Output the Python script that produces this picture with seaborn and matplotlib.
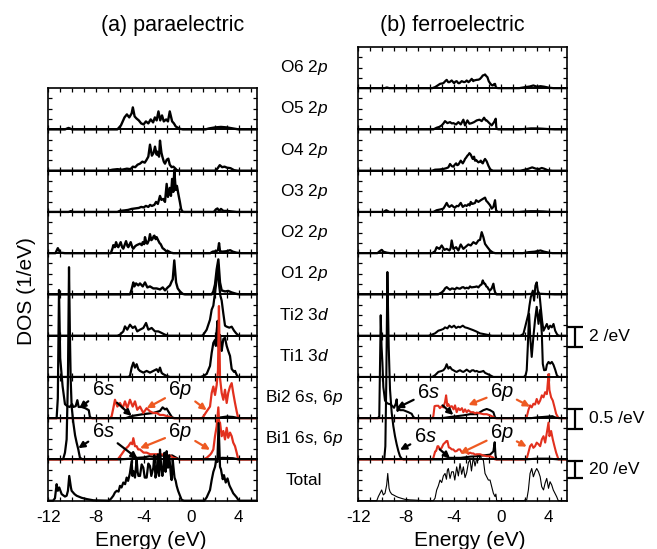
import matplotlib.pyplot as plt
import matplotlib.transforms as mtransforms
import seaborn as sns
import pandas as pd
from matplotlib.ticker import MultipleLocator

# Partial DOS: (energy in eV, DOS in 1/eV)
# ---------------- (a) paraelectric ----------------
o5_pe = [(-12, 0), (-10.6, 0), (-10.3, 0.15), (-10.0, 0), (-6.2, 0), (-5.9, 0.4), (-5.6, 1.2), (-5.4, 1.5),
         (-5.2, 1.2), (-5.0, 1.6), (-4.9, 2.2), (-4.75, 1.3), (-4.6, 1.1), (-4.4, 0.9), (-4.2, 0.6), (-4.0, 0.5),
         (-3.8, 0.8), (-3.6, 0.6), (-3.4, 1.0), (-3.2, 0.7), (-3.05, 1.2), (-2.9, 0.9), (-2.75, 1.8), (-2.6, 0.9),
         (-2.45, 1.4), (-2.3, 0.8), (-2.1, 1.0), (-1.95, 0.8), (-1.8, 1.8), (-1.6, 0.8), (-1.45, 0.6), (-1.3, 0.3),
         (-1.1, 0.15), (-0.9, 0.05), (-0.7, 0), (1.2, 0), (1.5, 0.1), (2.0, 0.2), (2.5, 0.25), (3.0, 0.2),
         (3.5, 0.1), (4.0, 0), (5.5, 0)]
o4_pe = [(-12, 0), (-7.0, 0), (-6.6, 0.1), (-6.2, 0.15), (-5.8, 0.1), (-5.4, 0.2), (-5.1, 0.15), (-4.9, 0.4),
         (-4.7, 0.35), (-4.5, 0.6), (-4.3, 0.7), (-4.1, 0.9), (-3.9, 0.8), (-3.74, 1.1), (-3.6, 1.4), (-3.46, 2.6),
         (-3.3, 1.5), (-3.15, 1.8), (-3.04, 2.4), (-2.9, 1.6), (-2.84, 1.9), (-2.7, 1.4), (-2.62, 3.0), (-2.5, 1.8),
         (-2.42, 1.4), (-2.3, 0.9), (-2.2, 0.7), (-2.05, 1.1), (-1.92, 1.2), (-1.8, 0.6), (-1.64, 0.35), (-1.5, 0.4),
         (-1.36, 0.25), (-1.2, 0.05), (-1.0, 0), (2.0, 0), (2.2, 0.2), (2.4, 0.55), (2.6, 0.35), (2.8, 0.4),
         (3.0, 0.3), (3.3, 0.25), (3.6, 0.05), (3.9, 0), (5.5, 0)]
o3_pe = [(-12, 0), (-10.3, 0), (-10.1, 0.08), (-9.9, 0), (-6.2, 0), (-6.0, 0.1), (-5.6, 0.15), (-5.3, 0.2),
         (-5.0, 0.3), (-4.7, 0.35), (-4.4, 0.4), (-4.2, 0.5), (-4.0, 0.45), (-3.8, 0.6), (-3.6, 0.5), (-3.45, 0.7),
         (-3.3, 0.6), (-3.1, 0.7), (-2.95, 1.0), (-2.8, 0.8), (-2.62, 1.6), (-2.5, 1.2), (-2.35, 1.3), (-2.2, 1.0),
         (-2.06, 2.8), (-1.95, 1.5), (-1.8, 2.4), (-1.7, 1.6), (-1.6, 3.3), (-1.5, 2.0), (-1.42, 4.2), (-1.3, 2.2),
         (-1.2, 2.6), (-1.08, 1.8), (-0.95, 1.0), (-0.85, 0.3), (-0.75, 0.05), (-0.6, 0), (1.9, 0), (2.0, 0.15),
         (2.2, 0.35), (2.35, 0.1), (2.5, 0.3), (2.7, 0.1), (3.0, 0.1), (3.4, 0.05), (3.8, 0), (5.5, 0)]
o2_pe = [(-12, 0), (-11.4, 0), (-11.2, 0.5), (-11.0, 0.05), (-10.6, 0), (-6.75, 0), (-6.6, 0.5), (-6.54, 0.8),
         (-6.4, 0.6), (-6.31, 1.1), (-6.2, 0.7), (-6.12, 0.6), (-5.92, 1.1), (-5.8, 0.6), (-5.7, 0.45), (-5.47, 1.2),
         (-5.35, 0.7), (-5.28, 0.6), (-5.08, 1.1), (-4.95, 0.6), (-4.86, 0.45), (-4.7, 0.7), (-4.58, 0.8),
         (-4.3, 0.95), (-4.15, 0.8), (-4.07, 1.1), (-3.95, 0.9), (-3.88, 1.6), (-3.75, 1.0), (-3.68, 0.95),
         (-3.55, 1.3), (-3.46, 1.9), (-3.35, 1.3), (-3.26, 1.4), (-3.15, 1.7), (-3.09, 1.75), (-2.98, 1.4),
         (-2.9, 1.6), (-2.76, 1.25), (-2.65, 1.0), (-2.56, 0.9), (-2.4, 0.5), (-2.28, 0.4), (-2.1, 0.2),
         (-1.92, 0.2), (-1.7, 0.05), (-1.5, 0), (1.6, 0), (1.8, 0.15), (2.1, 0.2), (2.25, 0.3), (2.34, 1.0),
         (2.42, 0.2), (2.6, 0.15), (3.0, 0.2), (3.27, 0.3), (3.5, 0.15), (3.8, 0.05), (4.2, 0), (5.5, 0)]
o1_pe = [(-12, 0), (-5.14, 0), (-5.0, 0.5), (-4.86, 1.2), (-4.77, 0.8), (-4.63, 1.1), (-4.44, 0.9), (-4.3, 1.1),
         (-4.07, 0.8), (-3.88, 1.2), (-3.68, 0.7), (-3.46, 0.8), (-3.18, 0.6), (-2.9, 0.6), (-2.62, 0.5),
         (-2.39, 0.7), (-2.2, 0.4), (-1.97, 0.7), (-1.78, 0.9), (-1.64, 1.3), (-1.55, 1.5), (-1.42, 3.4),
         (-1.27, 1.2), (-1.13, 0.6), (-0.94, 0.3), (-0.71, 0.05), (-0.52, 0), (1.72, 0), (1.86, 0.3), (2.0, 1.0),
         (2.14, 2.5), (2.28, 3.5), (2.42, 1.2), (2.56, 0.4), (2.84, 0.3), (3.11, 0.35), (3.4, 0.2), (3.82, 0.05),
         (4.1, 0), (5.5, 0)]
ti2_pe = [(-12, 0), (-6.2, 0), (-5.98, 0.1), (-5.7, 0.43), (-5.56, 0.93), (-5.37, 0.6), (-5.14, 1.1),
          (-4.91, 0.77), (-4.72, 0.93), (-4.53, 0.43), (-4.3, 0.6), (-4.02, 0.77), (-3.79, 1.27), (-3.6, 0.6),
          (-3.32, 0.77), (-3.04, 0.43), (-2.76, 0.43), (-2.48, 0.27), (-2.2, 0.1), (-1.92, 0), (0.9, 0),
          (1.02, 0.1), (1.3, 0.6), (1.58, 1.6), (1.72, 2.6), (1.86, 3.0), (2.0, 4.3), (2.14, 5.6), (2.26, 7.1),
          (2.35, 5.0), (2.45, 4.0), (2.56, 3.5), (2.7, 2.2), (2.84, 1.0), (2.98, 0.9), (3.2, 0.8), (3.4, 0.9),
          (3.6, 0.5), (3.8, 0.2), (4.0, 0), (5.5, 0)]
ti1_pe = [(-12, 0), (-5.3, 0), (-5.14, 0.1), (-5.0, 0.93), (-4.86, 1.43), (-4.72, 0.93), (-4.58, 1.27),
          (-4.44, 0.77), (-4.3, 0.6), (-4.02, 0.43), (-3.74, 0.6), (-3.46, 0.43), (-3.18, 0.6), (-2.9, 0.77),
          (-2.76, 0.5), (-2.62, 0.93), (-2.48, 0.4), (-2.34, 0.27), (-2.06, 0.1), (-1.78, 0), (0.8, 0),
          (1.02, 0.1), (1.3, 0.3), (1.58, 1.1), (1.72, 2.4), (1.86, 3.4), (2.0, 3.7), (2.07, 3.1), (2.14, 4.6),
          (2.22, 5.6), (2.3, 3.0), (2.42, 4.2), (2.5, 3.2), (2.56, 2.6), (2.7, 3.8), (2.84, 3.9), (2.98, 3.1),
          (3.11, 2.6), (3.26, 2.1), (3.4, 0.8), (3.6, 0.5), (3.68, 0.6), (3.82, 0.2), (3.95, 0), (5.5, 0)]
bi2s_pe = [(-12, 0), (-11.3, 0), (-11.2, 0.5), (-11.1, 3.2), (-11.0, 1.5), (-10.8, 0.8), (-10.6, 0.35),
           (-10.4, 0.3), (-10.2, 0.28), (-10.0, 0.35), (-9.9, 0.28), (-9.7, 0.3), (-9.56, 0.45), (-9.45, 0.28),
           (-9.2, 0.28), (-8.9, 0.25), (-8.6, 0.2), (-8.5, 0.02), (-8.3, 0), (-5.5, 0), (-4.88, 0.06),
           (-4.05, 0.1), (-3.18, 0.13), (-2.62, 0.18), (-2.4, 0.27), (-2.2, 0.22), (-2.06, 0.24), (-1.78, 0.1),
           (-1.6, 0.02), (-1.4, 0), (2.0, 0), (2.5, 0.02), (3.0, 0.04), (3.5, 0.03), (4.0, 0), (5.5, 0)]
bi2p_pe = [(-12, 0), (-6.8, 0), (-6.68, 0.05), (-6.54, 0.25), (-6.4, 0.46), (-6.2, 0.29), (-5.98, 0.38),
           (-5.75, 0.25), (-5.56, 0.42), (-5.37, 0.25), (-5.14, 0.46), (-4.91, 0.29), (-4.72, 0.42),
           (-4.53, 0.21), (-4.3, 0.29), (-4.02, 0.13), (-3.74, 0.25), (-3.46, 0.17), (-3.18, 0.13), (-2.9, 0.13),
           (-2.62, 0.08), (-2.34, 0.08), (-1.92, 0.04), (-1.5, 0), (0.9, 0), (1.02, 0.04), (1.3, 0.17),
           (1.58, 0.29), (1.72, 0.63), (1.86, 0.79), (2.0, 0.58), (2.14, 0.83), (2.25, 1.2), (2.33, 2.8),
           (2.42, 1.0), (2.56, 0.63), (2.7, 0.46), (2.84, 0.71), (2.98, 0.38), (3.11, 0.63), (3.26, 0.79),
           (3.4, 0.875), (3.53, 0.63), (3.68, 0.38), (3.82, 0.17), (3.95, 0), (5.5, 0)]
bi1s_pe = [(-12, 0), (-10.8, 0), (-10.74, 0.02), (-10.6, 0.17), (-10.46, 0.5), (-10.35, 2.0), (-10.26, 4.8),
           (-10.18, 3.0), (-10.12, 2.0), (-10.04, 1.33), (-9.9, 0.92), (-9.75, 0.6), (-9.62, 0.42), (-9.48, 0.25),
           (-9.34, 0.04), (-9.1, 0), (-6.0, 0), (-5.0, 0.02), (-4.5, 0.04), (-4.0, 0.05), (-3.5, 0.08),
           (-3.0, 0.06), (-2.5, 0.1), (-2.0, 0.08), (-1.6, 0.1), (-1.3, 0.05), (-1.0, 0), (2.0, 0), (2.6, 0.04),
           (3.5, 0.03), (4.0, 0), (5.5, 0)]
bi1p_pe = [(-12, 0), (-6.2, 0), (-6.12, 0.02), (-5.84, 0.13), (-5.56, 0.25), (-5.28, 0.33), (-5.08, 0.42),
           (-4.95, 0.38), (-4.86, 0.53), (-4.72, 0.33), (-4.58, 0.33), (-4.45, 0.25), (-4.3, 0.25), (-4.0, 0.17),
           (-3.74, 0.17), (-3.45, 0.13), (-3.18, 0.13), (-2.9, 0.13), (-2.62, 0.13), (-2.35, 0.12), (-2.06, 0.08),
           (-1.8, 0.1), (-1.5, 0.04), (-1.22, 0.02), (-1.0, 0), (1.0, 0), (1.3, 0.04), (1.6, 0.12), (1.72, 0.17),
           (1.86, 0.25), (2.0, 0.58), (2.14, 0.83), (2.28, 1.3), (2.35, 0.9), (2.42, 0.92), (2.56, 0.58),
           (2.7, 0.71), (2.84, 0.5), (2.98, 0.79), (3.11, 0.54), (3.26, 0.67), (3.4, 0.58), (3.53, 0.42),
           (3.68, 0.33), (3.82, 0.17), (3.95, 0), (5.5, 0)]
tot_pe = [(-12, 0), (-11.6, 0), (-11.44, 3), (-11.3, 20), (-11.2, 12), (-11.08, 16), (-10.88, 8), (-10.6, 5),
          (-10.46, 6), (-10.35, 12), (-10.24, 30), (-10.1, 16), (-10.04, 12), (-9.8, 8), (-9.62, 6), (-9.2, 3.5),
          (-8.78, 2), (-8.22, 0.5), (-7.5, 0.2), (-6.9, 0), (-6.7, 3), (-6.54, 6), (-6.4, 10), (-6.25, 12),
          (-6.1, 11), (-5.98, 18), (-5.85, 16), (-5.7, 22), (-5.55, 20), (-5.42, 28), (-5.3, 24), (-5.15, 33),
          (-5.0, 48), (-4.93, 30), (-4.86, 36), (-4.72, 28), (-4.58, 50), (-4.5, 35), (-4.43, 30), (-4.3, 30),
          (-4.16, 44), (-4.02, 40), (-3.9, 28), (-3.74, 28), (-3.6, 45), (-3.46, 42), (-3.35, 30), (-3.18, 40),
          (-3.1, 55), (-3.0, 28), (-2.9, 34), (-2.8, 56), (-2.7, 30), (-2.62, 62), (-2.5, 38), (-2.42, 30),
          (-2.34, 40), (-2.25, 58), (-2.15, 35), (-2.06, 60), (-1.95, 40), (-1.85, 55), (-1.78, 44), (-1.7, 30),
          (-1.64, 25), (-1.55, 50), (-1.5, 42), (-1.4, 28), (-1.3, 24), (-1.22, 18), (-1.1, 12), (-0.94, 6),
          (-0.8, 1), (-0.6, 0), (1.1, 0), (1.3, 4), (1.58, 13), (1.72, 25), (1.86, 35), (2.0, 41), (2.1, 49),
          (2.2, 47), (2.3, 94), (2.42, 41), (2.5, 38), (2.56, 33), (2.65, 26), (2.75, 31), (2.9, 22), (3.05, 27),
          (3.2, 19), (3.26, 17), (3.4, 13), (3.53, 9), (3.82, 4), (3.95, 1), (4.1, 0), (5.5, 0)]

# ---------------- (b) ferroelectric ----------------
o6_fe = [(-12, 0), (-9.8, 0), (-9.6, 0.07), (-9.4, 0), (-5.8, 0), (-5.56, 0.1), (-5.3, 0.3), (-5.14, 0.43),
         (-4.86, 0.5), (-4.7, 0.7), (-4.58, 0.83), (-4.45, 0.6), (-4.35, 0.6), (-4.16, 0.77), (-3.96, 0.5),
         (-3.85, 0.65), (-3.74, 0.7), (-3.6, 0.5), (-3.51, 0.5), (-3.32, 0.7), (-3.12, 0.6), (-3.0, 0.65),
         (-2.9, 0.77), (-2.75, 0.6), (-2.67, 0.67), (-2.48, 0.93), (-2.35, 0.7), (-2.28, 0.77), (-2.06, 0.83),
         (-1.9, 0.85), (-1.78, 0.93), (-1.65, 1.1), (-1.55, 1.27), (-1.45, 1.3), (-1.36, 1.37), (-1.25, 1.2),
         (-1.16, 1.1), (-1.05, 0.7), (-0.94, 0.5), (-0.8, 0.3), (-0.71, 0.27), (-0.6, 0.4), (-0.52, 0.43),
         (-0.45, 0.1), (-0.38, 0.02), (-0.2, 0), (1.5, 0), (2.0, 0.1), (2.4, 0.17), (2.7, 0.27), (3.0, 0.15),
         (3.3, 0.2), (3.6, 0.15), (4.0, 0.05), (4.4, 0), (5.5, 0)]
o5_fe = [(-12, 0), (-5.7, 0), (-5.42, 0.17), (-5.2, 0.25), (-5.0, 0.4), (-4.85, 0.6), (-4.72, 0.83),
         (-4.52, 0.63), (-4.3, 0.73), (-4.15, 0.6), (-4.02, 0.63), (-3.79, 0.5), (-3.6, 0.73), (-3.4, 0.5),
         (-3.18, 0.97), (-3.04, 0.4), (-2.84, 0.9), (-2.67, 0.57), (-2.48, 0.63), (-2.28, 0.73), (-2.06, 0.9),
         (-1.83, 0.97), (-1.64, 0.83), (-1.44, 1.17), (-1.3, 0.9), (-1.22, 0.9), (-1.0, 0.63), (-0.8, 0.4),
         (-0.6, 0.73), (-0.46, 1.07), (-0.42, 0.3), (-0.38, 0.05), (-0.2, 0), (1.5, 0), (2.0, 0.05), (2.5, 0.1),
         (3.0, 0.1), (3.5, 0.07), (4.0, 0.03), (4.5, 0), (5.5, 0)]
o4_fe = [(-12, 0), (-5.8, 0), (-5.56, 0.1), (-5.2, 0.12), (-4.86, 0.17), (-4.6, 0.25), (-4.44, 0.33),
         (-4.3, 0.67), (-4.15, 0.45), (-4.02, 0.4), (-3.9, 0.6), (-3.79, 0.73), (-3.7, 0.55), (-3.6, 0.6),
         (-3.4, 1.0), (-3.23, 0.73), (-3.1, 1.0), (-3.04, 1.17), (-2.95, 1.3), (-2.84, 1.5), (-2.75, 1.6),
         (-2.67, 1.75), (-2.56, 1.6), (-2.45, 1.3), (-2.39, 1.17), (-2.28, 1.4), (-2.2, 1.0), (-2.11, 1.07),
         (-1.92, 0.83), (-1.8, 0.9), (-1.72, 1.0), (-1.62, 0.8), (-1.55, 0.73), (-1.45, 1.0), (-1.36, 1.17),
         (-1.22, 0.93), (-1.08, 0.5), (-0.95, 0.2), (-0.88, 0.1), (-0.7, 0), (1.6, 0), (2.0, 0.1), (2.3, 0.2),
         (2.6, 0.33), (2.9, 0.2), (3.2, 0.17), (3.4, 0.27), (3.6, 0.2), (3.9, 0.05), (4.3, 0), (5.5, 0)]
o3_fe = [(-12, 0), (-9.9, 0), (-9.65, 0.17), (-9.4, 0), (-5.7, 0), (-5.42, 0.17), (-5.1, 0.25), (-4.86, 0.33),
         (-4.72, 0.6), (-4.58, 0.9), (-4.45, 0.6), (-4.35, 0.5), (-4.16, 0.67), (-4.0, 0.5), (-3.88, 0.43),
         (-3.74, 0.6), (-3.6, 0.57), (-3.4, 0.9), (-3.23, 0.5), (-3.04, 0.67), (-2.9, 0.6), (-2.76, 0.77),
         (-2.65, 0.65), (-2.56, 1.0), (-2.45, 0.8), (-2.34, 0.83), (-2.2, 0.9), (-2.11, 1.17), (-1.92, 1.0),
         (-1.8, 1.1), (-1.72, 1.17), (-1.5, 1.33), (-1.36, 1.43), (-1.25, 1.1), (-1.16, 1.0), (-0.94, 0.67),
         (-0.8, 0.33), (-0.66, 0.5), (-0.52, 1.17), (-0.46, 0.5), (-0.43, 0.17), (-0.3, 0), (1.5, 0), (2.0, 0.05),
         (2.5, 0.07), (3.0, 0.07), (3.5, 0.05), (4.2, 0), (5.5, 0)]
o2_fe = [(-12, 0), (-10.4, 0), (-10.2, 0.2), (-10.04, 0.33), (-9.9, 0.15), (-9.6, 0.05), (-9.3, 0), (-5.8, 0),
         (-5.56, 0.2), (-5.42, 0.6), (-5.3, 0.5), (-5.19, 0.43), (-5.0, 0.77), (-4.77, 0.33), (-4.58, 0.43),
         (-4.35, 0.27), (-4.25, 0.5), (-4.16, 1.27), (-4.02, 0.43), (-3.79, 0.6), (-3.6, 0.27), (-3.4, 0.87),
         (-3.18, 0.43), (-2.95, 0.67), (-2.76, 0.87), (-2.56, 0.77), (-2.34, 1.1), (-2.11, 0.93), (-1.92, 1.27),
         (-1.78, 1.33), (-1.64, 2.1), (-1.5, 1.6), (-1.36, 0.93), (-1.16, 0.6), (-0.94, 0.27), (-0.71, 0.07),
         (-0.5, 0), (1.8, 0), (2.3, 0.1), (2.8, 0.15), (3.3, 0.27), (3.6, 0.15), (4.0, 0.05), (4.3, 0), (5.5, 0)]
o1_fe = [(-12, 0), (-5.3, 0), (-5.0, 0.2), (-4.86, 0.33), (-4.72, 0.6), (-4.58, 0.73), (-4.45, 0.6),
         (-4.3, 0.47), (-4.15, 0.6), (-4.02, 0.57), (-3.88, 0.5), (-3.74, 0.67), (-3.6, 0.6), (-3.46, 0.57),
         (-3.3, 0.7), (-3.18, 0.73), (-3.05, 0.6), (-2.9, 0.67), (-2.75, 0.6), (-2.62, 0.8), (-2.5, 0.7),
         (-2.34, 0.73), (-2.2, 0.75), (-2.06, 0.8), (-1.92, 0.7), (-1.78, 0.9), (-1.65, 1.0), (-1.55, 1.4),
         (-1.45, 1.1), (-1.36, 1.07), (-1.25, 0.8), (-1.16, 0.73), (-1.05, 0.5), (-0.94, 0.4), (-0.8, 0.6),
         (-0.66, 1.07), (-0.58, 0.5), (-0.52, 0.23), (-0.4, 0), (1.8, 0), (2.5, 0.05), (3.0, 0.08), (3.5, 0.05),
         (4.5, 0), (5.5, 0)]
ti2_fe = [(-12, 0), (-6.1, 0), (-5.84, 0.1), (-5.56, 0.23), (-5.28, 0.5), (-5.08, 0.57), (-4.86, 0.67),
          (-4.72, 0.83), (-4.52, 0.73), (-4.35, 1.0), (-4.16, 0.83), (-3.96, 1.0), (-3.79, 0.77), (-3.6, 0.9),
          (-3.46, 0.83), (-3.23, 1.0), (-3.04, 0.83), (-2.84, 0.77), (-2.62, 0.67), (-2.39, 0.57), (-2.11, 0.43),
          (-1.78, 0.23), (-1.5, 0.17), (-1.22, 0.1), (-0.8, 0), (1.6, 0), (1.86, 0.17), (2.0, 0.83), (2.14, 1.5),
          (2.28, 2.17), (2.37, 3.0), (2.48, 3.83), (2.65, 4.5), (2.76, 3.5), (2.87, 5.0), (2.98, 5.33),
          (3.07, 4.5), (3.21, 4.17), (3.32, 2.83), (3.43, 1.5), (3.55, 0.5), (3.69, 0.83), (3.83, 1.17),
          (3.97, 0.67), (4.11, 1.0), (4.25, 0.83), (4.39, 1.17), (4.53, 0.5), (4.67, 0.17), (4.81, 0), (5.5, 0)]
ti1_fe = [(-12, 0), (-5.8, 0), (-5.56, 0.17), (-5.28, 0.5), (-5.0, 0.6), (-4.86, 0.67), (-4.7, 0.9),
          (-4.58, 1.27), (-4.44, 0.83), (-4.3, 1.0), (-4.15, 0.75), (-4.02, 0.67), (-3.85, 0.55), (-3.74, 0.5),
          (-3.6, 0.6), (-3.46, 0.67), (-3.3, 0.55), (-3.18, 0.5), (-3.05, 0.6), (-2.9, 0.73), (-2.75, 0.6),
          (-2.62, 0.5), (-2.48, 0.65), (-2.34, 0.67), (-2.2, 0.55), (-2.06, 0.6), (-1.9, 0.5), (-1.78, 0.5),
          (-1.6, 0.55), (-1.5, 0.6), (-1.35, 0.4), (-1.22, 0.33), (-0.94, 0.17), (-0.66, 0), (1.9, 0),
          (2.05, 0.17), (2.14, 0.67), (2.23, 3.0), (2.34, 6.3), (2.45, 3.7), (2.56, 2.0), (2.7, 4.0),
          (2.84, 5.7), (2.98, 7.0), (3.13, 5.3), (3.27, 6.7), (3.41, 4.3), (3.49, 1.3), (3.6, 0.67), (3.75, 0.7),
          (3.83, 1.2), (3.97, 1.5), (4.11, 1.33), (4.25, 1.5), (4.39, 1.2), (4.53, 0.73), (4.67, 0.17),
          (4.81, 0), (5.5, 0)]
bi2s_fe = [(-12, 0), (-10.35, 0), (-10.24, 0.05), (-10.12, 2.57), (-10.05, 1.8), (-9.98, 1.4), (-9.9, 0.78),
           (-9.76, 0.44), (-9.6, 0.38), (-9.48, 0.36), (-9.34, 0.35), (-9.2, 0.32), (-9.0, 0.26), (-8.86, 0.36),
           (-8.78, 0.47), (-8.7, 0.18), (-8.64, 0.28), (-8.5, 0.2), (-8.22, 0.2), (-7.8, 0.15), (-7.52, 0.11),
           (-7.38, 0.03), (-7.24, 0), (-5.0, 0), (-4.3, 0.03), (-3.18, 0.07), (-2.62, 0.1), (-2.06, 0.1),
           (-1.5, 0.2), (-1.22, 0.23), (-0.94, 0.2), (-0.66, 0.15), (-0.52, 0.02), (-0.4, 0), (2.5, 0),
           (3.0, 0.02), (3.5, 0.03), (4.3, 0.05), (4.5, 0.02), (5.0, 0), (5.5, 0)]
bi2p_fe = [(-12, 0), (-5.8, 0), (-5.7, 0.05), (-5.6, 0.3), (-5.47, 0.31), (-5.28, 0.31), (-5.15, 0.25),
           (-5.0, 0.3), (-4.86, 0.27), (-4.72, 0.4), (-4.63, 0.57), (-4.52, 0.3), (-4.44, 0.35), (-4.3, 0.28),
           (-4.15, 0.3), (-4.0, 0.22), (-3.88, 0.32), (-3.74, 0.15), (-3.6, 0.25), (-3.46, 0.2), (-3.3, 0.25),
           (-3.18, 0.15), (-3.04, 0.22), (-2.9, 0.15), (-2.76, 0.2), (-2.56, 0.15), (-2.34, 0.15), (-2.2, 0.12),
           (-2.06, 0.14), (-1.78, 0.12), (-1.5, 0.1), (-1.22, 0.1), (-0.94, 0.07), (-0.66, 0.03), (-0.52, 0),
           (2.0, 0), (2.14, 0.03), (2.28, 0.2), (2.42, 0.32), (2.56, 0.27), (2.7, 0.36), (2.84, 0.34),
           (2.98, 0.48), (3.13, 0.36), (3.27, 0.44), (3.41, 0.57), (3.55, 0.52), (3.69, 0.65), (3.83, 0.6),
           (3.9, 0.85), (3.97, 1.1), (4.05, 0.7), (4.19, 0.52), (4.33, 0.44), (4.47, 0.28), (4.61, 0.11),
           (4.81, 0), (5.5, 0)]
bi1s_fe = [(-12, 0), (-9.9, 0), (-9.82, 0.02), (-9.73, 0.33), (-9.65, 2.0), (-9.56, 4.68), (-9.45, 2.83),
           (-9.34, 1.75), (-9.2, 1.17), (-9.06, 0.83), (-8.92, 0.58), (-8.78, 0.38), (-8.64, 0.21), (-8.5, 0.08),
           (-8.36, 0.02), (-8.2, 0), (-5.0, 0), (-4.3, 0.04), (-3.4, 0.04), (-2.6, 0.07), (-2.06, 0.08),
           (-1.5, 0.1), (-0.94, 0.12), (-0.66, 0.2), (-0.55, 0.43), (-0.48, 0.1), (-0.4, 0), (2.0, 0),
           (3.0, 0.02), (4.0, 0.02), (4.8, 0), (5.5, 0)]
bi1p_fe = [(-12, 0), (-5.8, 0), (-5.7, 0.04), (-5.55, 0.2), (-5.47, 0.21), (-5.35, 0.33), (-5.28, 0.33),
           (-5.15, 0.25), (-5.0, 0.29), (-4.86, 0.38), (-4.72, 0.42), (-4.6, 0.46), (-4.52, 0.46), (-4.4, 0.3),
           (-4.3, 0.29), (-4.15, 0.25), (-4.02, 0.25), (-3.88, 0.2), (-3.74, 0.21), (-3.6, 0.25), (-3.46, 0.25),
           (-3.3, 0.17), (-3.18, 0.17), (-3.05, 0.2), (-2.9, 0.18), (-2.76, 0.14), (-2.62, 0.17), (-2.48, 0.15),
           (-2.34, 0.15), (-2.2, 0.12), (-2.06, 0.13), (-1.78, 0.13), (-1.5, 0.1), (-1.22, 0.08), (-0.94, 0.08),
           (-0.7, 0.05), (-0.52, 0), (2.0, 0), (2.14, 0.02), (2.28, 0.17), (2.42, 0.33), (2.56, 0.38),
           (2.7, 0.29), (2.84, 0.33), (2.98, 0.42), (3.13, 0.38), (3.27, 0.33), (3.41, 0.5), (3.55, 0.58),
           (3.69, 0.42), (3.83, 0.67), (3.97, 0.92), (4.05, 0.58), (4.19, 0.71), (4.33, 0.5), (4.47, 0.33),
           (4.61, 0.17), (4.81, 0), (5.5, 0)]
tot_fe = [(-12, 0), (-10.45, 0), (-10.32, 5), (-10.18, 9), (-10.04, 13), (-9.9, 7), (-9.76, 9), (-9.62, 19),
          (-9.53, 33), (-9.42, 15), (-9.34, 11), (-9.2, 8), (-9.06, 7), (-8.8, 5), (-8.64, 4), (-8.3, 2.5),
          (-8.08, 1.6), (-7.7, 1.0), (-7.38, 0.8), (-6.8, 0.3), (-6.26, 0), (-5.7, 0), (-5.56, 3), (-5.42, 13),
          (-5.28, 18), (-5.14, 25), (-5.0, 22), (-4.86, 30), (-4.72, 33), (-4.6, 26), (-4.52, 37), (-4.44, 39),
          (-4.3, 27), (-4.16, 35), (-4.02, 35), (-3.9, 25), (-3.74, 41), (-3.6, 30), (-3.46, 45), (-3.32, 32),
          (-3.18, 41), (-3.04, 28), (-2.9, 34), (-2.76, 46), (-2.62, 50), (-2.5, 36), (-2.34, 53), (-2.2, 42),
          (-2.06, 51), (-1.92, 49), (-1.78, 54), (-1.64, 51), (-1.5, 49), (-1.36, 33), (-1.22, 29), (-1.08, 25),
          (-0.94, 25), (-0.8, 17), (-0.66, 9), (-0.52, 5), (-0.45, 8), (-0.38, 0), (1.9, 0), (2.0, 1),
          (2.14, 1), (2.28, 13), (2.42, 33), (2.56, 39), (2.7, 29), (2.84, 35), (2.98, 39), (3.13, 35),
          (3.27, 29), (3.4, 17), (3.55, 13), (3.68, 21), (3.82, 27), (3.97, 15), (4.1, 23), (4.24, 19),
          (4.37, 13), (4.51, 9), (4.65, 5), (4.79, 0), (5.5, 0)]

row_labels = ['O6 2$p$', 'O5 2$p$', 'O4 2$p$', 'O3 2$p$', 'O2 2$p$', 'O1 2$p$',
              'Ti2 3$d$', 'Ti1 3$d$', 'Bi2 6$s$, 6$p$', 'Bi1 6$s$, 6$p$', 'Total']

# y range of one panel (1/eV): O/Ti panels, Bi panels, total
Y_PD, Y_BI, Y_TOT = 4.12, 1.03, 50.0

# (black curve, red curve, ymax, line width)
para_panels = [(o5_pe, None, Y_PD, 1.7), (o4_pe, None, Y_PD, 1.7), (o3_pe, None, Y_PD, 1.7),
               (o2_pe, None, Y_PD, 1.7), (o1_pe, None, Y_PD, 1.7), (ti2_pe, None, Y_PD, 1.6),
               (ti1_pe, None, Y_PD, 1.6), (bi2s_pe, bi2p_pe, Y_BI, 1.6), (bi1s_pe, bi1p_pe, Y_BI, 1.6),
               (tot_pe, None, Y_TOT, 1.6)]
ferro_panels = [(o6_fe, None, Y_PD, 1.6), (o5_fe, None, Y_PD, 1.6), (o4_fe, None, Y_PD, 1.6),
                (o3_fe, None, Y_PD, 1.6), (o2_fe, None, Y_PD, 1.6), (o1_fe, None, Y_PD, 1.6),
                (ti2_fe, None, Y_PD, 1.5), (ti1_fe, None, Y_PD, 1.5), (bi2s_fe, bi2p_fe, Y_BI, 1.5),
                (bi1s_fe, bi1p_fe, Y_BI, 1.5), (tot_fe, None, Y_TOT, 0.8)]

sns.set_style("ticks")
plt.rcParams['font.family'] = ['Liberation Sans', 'DejaVu Sans']
plt.rcParams['mathtext.fontset'] = 'custom'
plt.rcParams['mathtext.rm'] = 'Liberation Sans'
plt.rcParams['mathtext.it'] = 'Liberation Sans:italic'
plt.rcParams['axes.unicode_minus'] = False
for key in ['text.color', 'axes.labelcolor', 'xtick.color', 'ytick.color', 'axes.edgecolor']:
    plt.rcParams[key] = 'black'

RED = '#e2301e'
ORANGE = '#ee5a22'

fig = plt.figure(figsize=(6.57, 5.49), dpi=100)
fig.patch.set_facecolor('white')

W, PH, B0 = 0.3172, 0.07514, 0.0880


def make_column(x0, panels):
    axes = []
    n = len(panels)
    for i, (black, red, ymax, lw) in enumerate(panels):
        ax = fig.add_axes([x0, B0 + (n - 1 - i) * PH, W, PH])
        ax.patch.set_alpha(0)
        df = pd.DataFrame(black, columns=['E', 'DOS'])
        sns.lineplot(data=df, x='E', y='DOS', ax=ax, color='black', lw=lw,
                     estimator=None, sort=False, clip_on=False, legend=False)
        if red is not None:
            dr = pd.DataFrame(red, columns=['E', 'DOS'])
            sns.lineplot(data=dr, x='E', y='DOS', ax=ax, color=RED, lw=lw,
                         estimator=None, sort=False, clip_on=False, legend=False)
        ax.set_xlim(-12, 5.5)
        ax.set_ylim(0, ymax)
        ax.set_xlabel('')
        ax.set_ylabel('')
        ax.xaxis.set_major_locator(MultipleLocator(4))
        ax.xaxis.set_minor_locator(MultipleLocator(1))
        ax.set_yticks([ymax * 0.25, ymax * 0.5, ymax * 0.75])
        last = i == n - 1
        ax.tick_params(which='both', direction='in', top=True, right=True, length=3, width=0.9,
                       labelleft=False, labelbottom=last, labelsize=12.3, pad=7)
        for s in ax.spines.values():
            s.set_linewidth(1.2)
        axes.append(ax)
    return axes


ax_pe = make_column(0.0735, para_panels)
ax_fe = make_column(0.5454, ferro_panels)


def tag(ax, txt, pos, tips, color):
    for k, tip in enumerate(tips):
        ax.annotate(txt, xy=tip, xytext=pos, ha='center', va='center', fontsize=14.5,
                    color='black' if k == 0 else 'none', annotation_clip=False,
                    arrowprops=dict(arrowstyle='-|>', color=color, lw=1.6, mutation_scale=9,
                                    shrinkA=0, shrinkB=0))


# paraelectric Bi2, Bi1
tag(ax_pe[7], '6$s$', (-7.41, 0.705), [(-9.4, 0.25), (-5.0, 0.055)], 'black')
tag(ax_pe[7], '6$p$', (-0.93, 0.705), [(-3.74, 0.25), (1.3, 0.2)], ORANGE)
tag(ax_pe[8], '6$s$', (-7.41, 0.686), [(-9.48, 0.28), (-4.5, 0.02)], 'black')
tag(ax_pe[8], '6$p$', (-0.93, 0.686), [(-4.3, 0.28), (1.58, 0.24)], ORANGE)
# ferroelectric Bi2, Bi1
tag(ax_fe[8], '6$s$', (-6.12, 0.64), [(-8.78, 0.25), (-4.02, 0.08)], 'black')
tag(ax_fe[8], '6$p$', (0.04, 0.66), [(-2.76, 0.33), (2.42, 0.29)], ORANGE)
tag(ax_fe[9], '6$s$', (-6.4, 0.57), [(-8.5, 0.24), (-4.3, 0.03)], 'black')
tag(ax_fe[9], '6$p$', (0.04, 0.65), [(-3.46, 0.15), (2.14, 0.32)], ORANGE)

# row labels in the gap between the columns
for i, lab in enumerate(row_labels):
    fig.text(0.4627, B0 + (10 - i + 0.5) * PH, lab, ha='center', va='center', fontsize=12.4)

# scale bars, drawn in data units of the panel they belong to
bars = [(ax_fe[6], -1.1, 0.9, '2 /eV', 336.5), (ax_fe[8], -0.275, 0.225, '0.5 /eV', 418.5),
        (ax_fe[10], 27.6, 47.6, '20 /eV', 470)]
for ax, y0, y1, txt, ypx in bars:
    tr = mtransforms.blended_transform_factory(ax.transAxes, ax.transData)
    ax.plot([1.04, 1.04], [y0, y1], color='black', lw=1.6, transform=tr, clip_on=False)
    ax.plot([1.04, 1.04], [y0, y1], ls='none', marker='_', ms=11, mew=1.6, color='black',
            transform=tr, clip_on=False)
    fig.text(589 / 657, 1 - ypx / 549, txt, ha='left', va='center', fontsize=12.6)

fig.text(173 / 657, 1 - 25 / 549, '(a) paraelectric', ha='center', va='center', fontsize=15.5)
fig.text(452 / 657, 1 - 25 / 549, '(b) ferroelectric', ha='center', va='center', fontsize=15.5)
fig.text(151 / 657, 1 - 546 / 549, 'Energy (eV)', ha='center', va='baseline', fontsize=15)
fig.text(470 / 657, 1 - 546 / 549, 'Energy (eV)', ha='center', va='baseline', fontsize=15)
fig.text(26 / 657, 1 - 291 / 549, 'DOS (1/eV)', ha='center', va='center', rotation=90, fontsize=15)

fig.savefig('out.png', dpi=100, facecolor='white')
